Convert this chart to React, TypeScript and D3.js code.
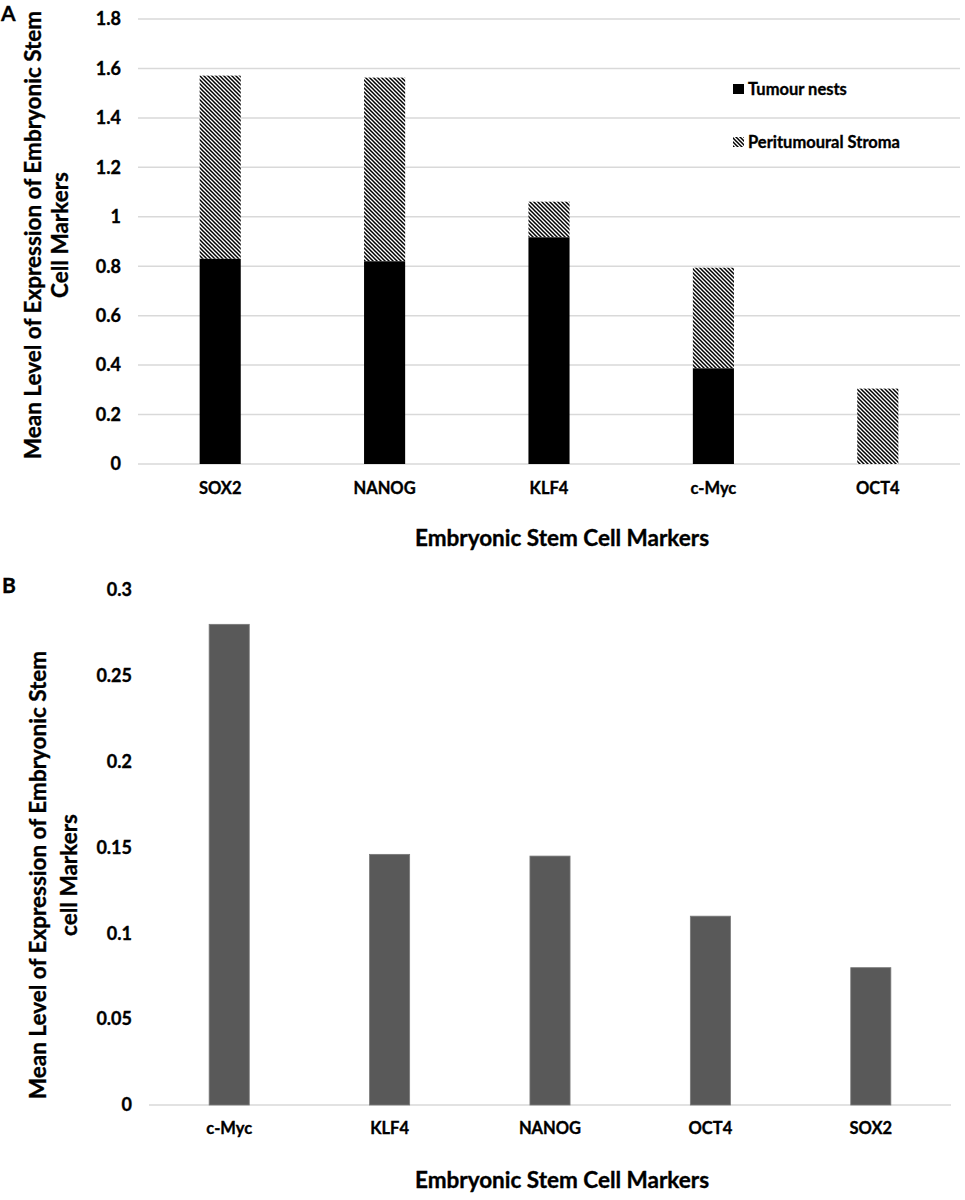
import React, { useEffect, useRef } from 'react';
import * as d3 from 'd3';

// Panel A: stacked bars
const markersA = ['SOX2', 'NANOG', 'KLF4', 'c-Myc', 'OCT4'];
const tumourNests = [0.83, 0.82, 0.917, 0.387, 0];
const peritumouralTotal = [1.571, 1.563, 1.061, 0.794, 0.305];
const ticksA = [0, 0.2, 0.4, 0.6, 0.8, 1, 1.2, 1.4, 1.6, 1.8];
const seriesNames = ['Tumour nests', 'Peritumoural Stroma'];

// Panel B: single series
const markersB = ['c-Myc', 'KLF4', 'NANOG', 'OCT4', 'SOX2'];
const valuesB = [0.28, 0.146, 0.145, 0.11, 0.08];
const ticksB = [0, 0.05, 0.1, 0.15, 0.2, 0.25, 0.3];

const FONT = 'Lato, "Open Sans", sans-serif';

const App: React.FC = () => {
  const svgRef = useRef<SVGSVGElement>(null);

  useEffect(() => {
    const svg = d3.select(svgRef.current);
    svg.selectAll('*').remove();

    // hatch pattern
    const defs = svg.append('defs');
    const pat = defs.append('pattern')
      .attr('id', 'hatch')
      .attr('patternUnits', 'userSpaceOnUse')
      .attr('width', 4)
      .attr('height', 4);
    pat.append('rect').attr('width', 4).attr('height', 4).attr('fill', '#fff');
    pat.append('path')
      .attr('d', 'M-1,-1 L5,5 M3,-1 L5,1 M-1,3 L1,5')
      .attr('stroke', '#000')
      .attr('stroke-width', 1.5);

    // thicker text, closer to the heavy bold of the original
    const heavy = (sel: any, size: number) =>
      sel.style('font', `bold ${size}px ${FONT}`)
        .attr('fill', '#000')
        .attr('stroke', '#000')
        .attr('stroke-width', 0.35);

    // ---------- Panel A ----------
    const xA = d3.scaleBand<string>()
      .domain(markersA)
      .range([138, 960])
      .paddingInner(0.75)
      .paddingOuter(0.375);
    const yA = d3.scaleLinear().domain([0, 1.8]).range([464, 19]);

    const gA = svg.append('g');
    gA.selectAll('line.grid')
      .data(ticksA)
      .join('line')
      .attr('class', 'grid')
      .attr('x1', 138)
      .attr('x2', 960)
      .attr('y1', d => yA(d))
      .attr('y2', d => yA(d))
      .attr('stroke', '#d9d9d9')
      .attr('stroke-width', 1.5);

    heavy(gA.selectAll('text.tick')
      .data(ticksA)
      .join('text')
      .attr('class', 'tick')
      .attr('x', 121)
      .attr('y', d => yA(d))
      .attr('dy', '0.35em')
      .attr('text-anchor', 'end')
      .text(d => String(d)), 18);

    // stroma (top segment)
    gA.selectAll('rect.stroma')
      .data(markersA)
      .join('rect')
      .attr('class', 'stroma')
      .attr('x', d => xA(d) ?? 0)
      .attr('width', xA.bandwidth())
      .attr('y', (_, i) => yA(peritumouralTotal[i]))
      .attr('height', (_, i) => yA(tumourNests[i]) - yA(peritumouralTotal[i]))
      .attr('fill', 'url(#hatch)');

    // tumour nests (bottom segment)
    gA.selectAll('rect.nests')
      .data(markersA)
      .join('rect')
      .attr('class', 'nests')
      .attr('x', d => xA(d) ?? 0)
      .attr('width', xA.bandwidth())
      .attr('y', (_, i) => yA(tumourNests[i]))
      .attr('height', (_, i) => yA(0) - yA(tumourNests[i]))
      .attr('fill', '#000');

    heavy(gA.selectAll('text.cat')
      .data(markersA)
      .join('text')
      .attr('class', 'cat')
      .attr('x', d => (xA(d) ?? 0) + xA.bandwidth() / 2)
      .attr('y', 494)
      .attr('text-anchor', 'middle')
      .text(d => d), 16.5);

    // legend
    const legendY = [89, 142];
    const lg = gA.selectAll('g.legend')
      .data(seriesNames)
      .join('g')
      .attr('class', 'legend')
      .attr('transform', (_, i) => `translate(733,${legendY[i]})`);
    lg.append('rect')
      .attr('x', 0)
      .attr('y', -5)
      .attr('width', 11)
      .attr('height', 10)
      .attr('fill', (_, i) => (i === 0 ? '#000' : 'url(#hatch)'));
    heavy(lg.append('text')
      .attr('x', 15)
      .attr('dy', '0.35em')
      .text(d => d), 16.5);

    // axis titles
    const titleA = heavy(gA.append('text')
      .attr('transform', 'translate(0,235) rotate(-90)')
      .attr('text-anchor', 'middle'), 22.5);
    titleA.append('tspan').attr('x', 0).attr('y', 41).text('Mean Level of Expression of Embryonic Stem');
    titleA.append('tspan').attr('x', 0).attr('y', 68).text('Cell Markers');

    heavy(gA.append('text')
      .attr('x', 562)
      .attr('y', 546)
      .attr('text-anchor', 'middle')
      .text('Embryonic Stem Cell Markers'), 22.5);

    heavy(gA.append('text')
      .attr('x', 1)
      .attr('y', 21)
      .text('A'), 21);

    // ---------- Panel B ----------
    const xB = d3.scaleBand<string>()
      .domain(markersB)
      .range([149, 951])
      .paddingInner(0.75)
      .paddingOuter(0.375);
    const yB = d3.scaleLinear().domain([0, 0.3]).range([1105, 590]);

    const gB = svg.append('g');
    gB.append('line')
      .attr('x1', 149)
      .attr('x2', 951)
      .attr('y1', yB(0))
      .attr('y2', yB(0))
      .attr('stroke', '#d9d9d9')
      .attr('stroke-width', 1.5);

    heavy(gB.selectAll('text.tick')
      .data(ticksB)
      .join('text')
      .attr('class', 'tick')
      .attr('x', 132)
      .attr('y', d => yB(d))
      .attr('dy', '0.35em')
      .attr('text-anchor', 'end')
      .text(d => String(d)), 18);

    gB.selectAll('rect.bar')
      .data(markersB)
      .join('rect')
      .attr('class', 'bar')
      .attr('x', d => xB(d) ?? 0)
      .attr('width', xB.bandwidth())
      .attr('y', (_, i) => yB(valuesB[i]))
      .attr('height', (_, i) => yB(0) - yB(valuesB[i]))
      .attr('fill', '#595959')
      .attr('stroke', '#7a7a7a')
      .attr('stroke-width', 0.8);

    heavy(gB.selectAll('text.cat')
      .data(markersB)
      .join('text')
      .attr('class', 'cat')
      .attr('x', d => (xB(d) ?? 0) + xB.bandwidth() / 2)
      .attr('y', 1134)
      .attr('text-anchor', 'middle')
      .text(d => d), 16.5);

    const titleB = heavy(gB.append('text')
      .attr('transform', 'translate(0,875) rotate(-90)')
      .attr('text-anchor', 'middle'), 22.5);
    titleB.append('tspan').attr('x', 0).attr('y', 46).text('Mean Level of Expression of Embryonic Stem');
    titleB.append('tspan').attr('x', 0).attr('y', 77).text('cell Markers');

    heavy(gB.append('text')
      .attr('x', 562)
      .attr('y', 1188)
      .attr('text-anchor', 'middle')
      .text('Embryonic Stem Cell Markers'), 22.5);

    heavy(gB.append('text')
      .attr('x', 2)
      .attr('y', 593)
      .text('B'), 21);
  }, []);

  return (
    <svg
      ref={svgRef}
      width={965}
      height={1200}
      style={{ position: 'absolute', left: 0, top: 0, background: '#fff' }}
    />
  );
};

export default App;
